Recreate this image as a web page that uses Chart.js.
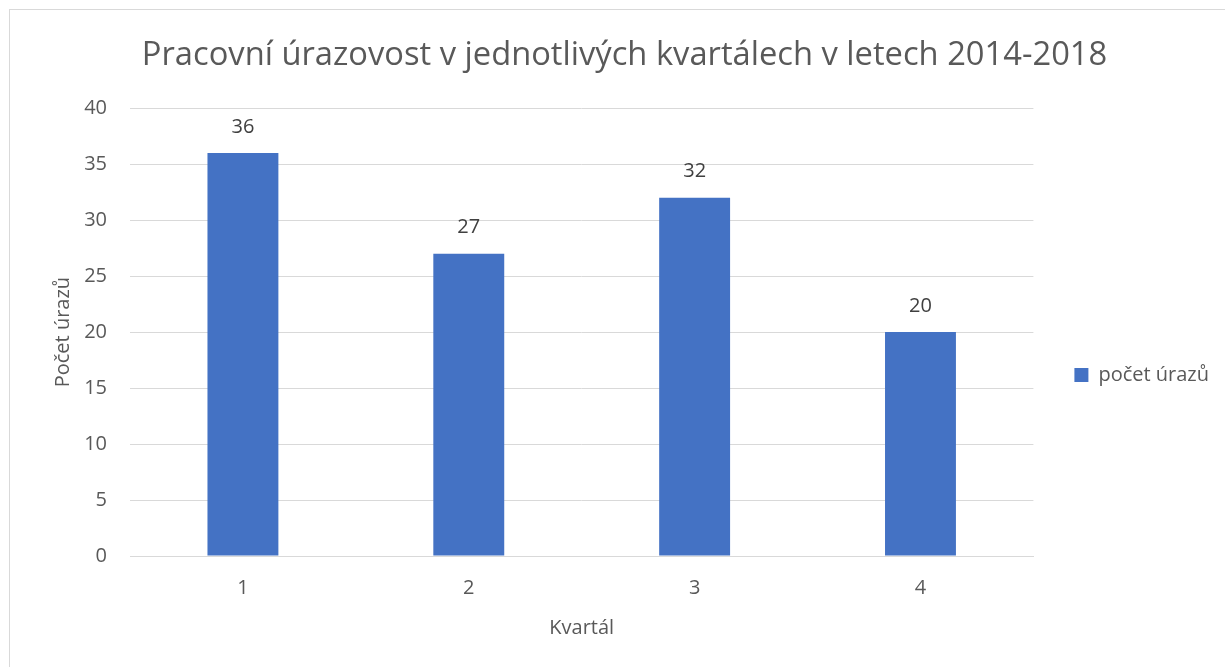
<!DOCTYPE html>
<html lang="cs">
<head>
    <meta charset="UTF-8">
    <title>Pracovní úrazovost</title>
    <script src="https://cdn.jsdelivr.net/npm/chart.js"></script>
    <style>
        body { margin: 0; background: #fff; }
        #wrap { position: relative; width: 1225px; height: 667px; }
        #frame { position: absolute; left: 9px; top: 9px; right: -2px; bottom: -2px; border-left: 1px solid #d9d9d9; border-top: 1px solid #d9d9d9; }
    </style>
</head>
<body>
<div id="wrap">
    <div id="frame"></div>
    <canvas id="injuryChart" width="1225" height="667"></canvas>
</div>
<script>
    // data
    const quarters = ['1', '2', '3', '4'];
    const injuries = [36, 27, 32, 20];
    const seriesName = 'počet úrazů';

    const FONT = '"Open Sans", sans-serif';
    const GREY = '#595959';

    // value labels above the bars
    const valueLabels = {
        id: 'valueLabels',
        afterDatasetsDraw(chart) {
            const ctx = chart.ctx;
            ctx.save();
            ctx.font = '20px ' + FONT;
            ctx.fillStyle = '#404040';
            ctx.textAlign = 'center';
            ctx.textBaseline = 'middle';
            chart.getDatasetMeta(0).data.forEach((bar, i) => {
                ctx.fillText(injuries[i], bar.x, bar.y - 26);
            });
            ctx.restore();
        }
    };

    new Chart(document.getElementById('injuryChart').getContext('2d'), {
        type: 'bar',
        data: {
            labels: quarters,
            datasets: [{
                label: seriesName,
                data: injuries,
                backgroundColor: '#4472c4',
                categoryPercentage: 1,
                barPercentage: 0.314
            }]
        },
        options: {
            responsive: false,
            animation: false,
            layout: { padding: { top: 36, left: 47, right: 6, bottom: 23 } },
            plugins: {
                title: {
                    display: true,
                    // two trailing nbsp nudge the centred title a little to the left
                    text: 'Pracovní úrazovost v jednotlivých kvartálech v letech 2014-2018\u00a0\u00a0',
                    color: GREY,
                    font: { family: FONT, size: 32.7, weight: 'normal' },
                    padding: { top: 0, bottom: 33 }
                },
                legend: {
                    position: 'right',
                    title: { display: true, text: ' ', padding: 17, font: { size: 30 } },
                    labels: {
                        boxWidth: 14,
                        boxHeight: 14,
                        padding: 41,
                        color: GREY,
                        font: { family: FONT, size: 20 }
                    }
                },
                tooltip: { enabled: false }
            },
            scales: {
                x: {
                    grid: { display: false, drawTicks: false },
                    border: { color: '#d9d9d9' },
                    ticks: { color: GREY, font: { family: FONT, size: 20 }, padding: 20 },
                    title: { display: true, text: 'Kvartál', color: GREY, font: { family: FONT, size: 20 }, padding: { top: -4 } }
                },
                y: {
                    min: 0,
                    max: 40,
                    grid: { color: '#d9d9d9', drawTicks: false },
                    border: { display: false },
                    ticks: { stepSize: 5, color: GREY, font: { family: FONT, size: 20 }, padding: 23 },
                    title: { display: true, text: 'Počet úrazů', color: GREY, font: { family: FONT, size: 20 }, padding: { bottom: 10 } },
                    afterFit(scale) { scale.width = 83; }
                }
            }
        },
        plugins: [valueLabels]
    });
</script>
</body>
</html>
